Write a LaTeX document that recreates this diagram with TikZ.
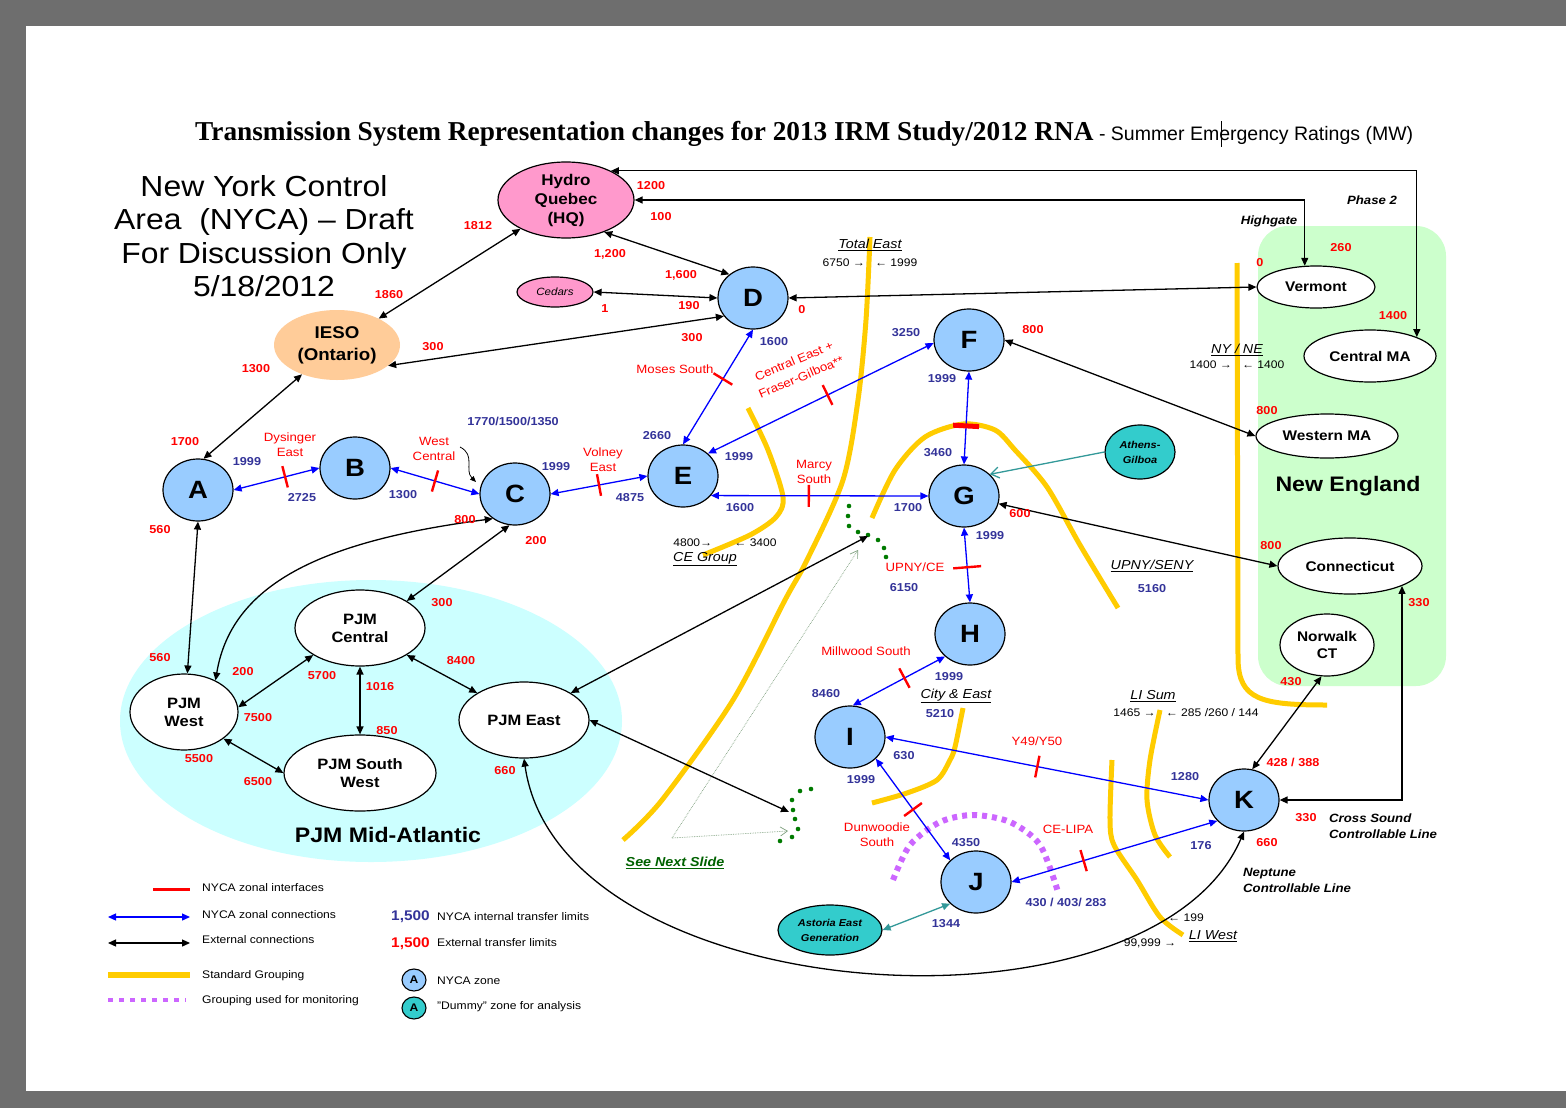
\documentclass[tikz,border=0pt]{standalone}
\usepackage{fontspec}
\setmainfont[FakeStretch=1.1]{Liberation Sans}
\newfontfamily\plainsans{Liberation Sans}
\newfontfamily\titleserif{Liberation Serif}
\usetikzlibrary{shapes.geometric,arrows.meta,calc}

\definecolor{zoneblue}{HTML}{99CCFF}
\definecolor{dummyteal}{HTML}{33CCCC}
\definecolor{hqpink}{HTML}{FF99CC}
\definecolor{iesopeach}{HTML}{FFCC99}
\definecolor{pjmcyan}{HTML}{CCFFFF}
\definecolor{negreen}{HTML}{CCFFCC}
\definecolor{grpyellow}{HTML}{FFCC00}
\definecolor{lblblue}{HTML}{333399}
\definecolor{monpurple}{HTML}{CC66FF}
\definecolor{dotgreen}{HTML}{007A00}
\definecolor{tealline}{HTML}{339999}
\definecolor{framegray}{HTML}{6E6E6E}
\definecolor{slidegreen}{HTML}{7FA07F}

\tikzset{
  ext/.style={draw=black, line width=1.3pt, <->},
  nyca/.style={draw=blue, line width=1.3pt, <->},
  zone/.style={ellipse, draw=black, line width=1.2pt, fill=zoneblue, minimum width=70pt, minimum height=62pt, inner sep=0pt, font=\bfseries\fontsize{25}{25}\selectfont},
  dummy/.style={ellipse, draw=black, line width=1.2pt, fill=dummyteal, inner sep=0pt, align=center, font=\bfseries\itshape\fontsize{10}{15}\selectfont},
  extarea/.style={ellipse, draw=black, line width=1.2pt, fill=white, inner sep=0pt, align=center, font=\bfseries\fontsize{14}{17}\selectfont},
  pjmarea/.style={ellipse, draw=black, line width=1.2pt, fill=white, inner sep=0pt, align=center, font=\bfseries\fontsize{15}{18}\selectfont},
  grpline/.style={draw=grpyellow, line width=5pt},
  rlim/.style={text=red, font=\bfseries\fontsize{11.5}{13}\selectfont, inner sep=0pt},
  blim/.style={text=lblblue, font=\bfseries\fontsize{11.5}{13}\selectfont, inner sep=0pt},
  iface/.style={text=red, font=\fontsize{12}{15}\selectfont, align=center, inner sep=0pt},
  grplbl/.style={font=\itshape\fontsize{13}{15}\selectfont, inner sep=0pt},
  linelbl/.style={font=\bfseries\itshape\fontsize{12}{15}\selectfont, inner sep=0pt},
  flowlbl/.style={font=\fontsize{11}{13}\selectfont, inner sep=0pt},
  notelbl/.style={font=\bfseries\itshape\fontsize{12}{16}\selectfont, align=left, inner sep=0pt},
  legtxt/.style={font=\fontsize{11}{13}\selectfont, anchor=west, inner sep=0pt},
  ifacetick/.style={sloped, rectangle, fill=red, minimum width=2.4pt, minimum height=22pt, inner sep=0pt},
  ifacebar/.style={sloped, rectangle, fill=red, minimum width=5pt, minimum height=26pt, inner sep=0pt},
  dotarrow/.style={draw=slidegreen, line width=0.7pt, densely dotted, -{Straight Barb[length=7pt,width=9pt]}},
}

\begin{document}
\begin{tikzpicture}[x=1pt,y=-1pt, >={Triangle[length=8pt,width=7pt]}]
\useasboundingbox (0,0) rectangle (1566,1108);
% frame
\fill[framegray] (0,0) rectangle (1566,1108);
\fill[white] (26,26) rectangle (1566,1091);

% background regions
\node[ellipse, fill=pjmcyan, minimum width=502pt, minimum height=282pt, inner sep=0pt] (PJMRegion) at (371,721) {};
\node[rectangle, fill=negreen, rounded corners=30pt, minimum width=188pt, minimum height=460pt, inner sep=0pt] (NERegion) at (1352,456) {};

% titles
\node[anchor=base west, inner sep=0pt] (title) at (195,140) {{\titleserif\bfseries\fontsize{27.3}{30}\selectfont Transmission System Representation changes for 2013 IRM Study/2012 RNA}{\plainsans\fontsize{19.5}{22}\selectfont{} - Summer Emergency Ratings (MW)}};
\draw[line width=0.8pt] (1221,121) -- (1221,147);
\node[align=center, font=\fontsize{29}{33.3}\selectfont, inner sep=0pt] (nyca) at (264,236) {New York Control\\Area~~(NYCA) -- Draft\\For Discussion Only\\5/18/2012};

% standard groupings
\draw[grpline] plot[smooth] coordinates {(870,237) (866,320) (858,400) (843,480) (807,560) (785,600) (733,700) (662,800) (623,840)};
\draw[grpline] plot[smooth] coordinates {(748,408) (768,450) (783,497) (776,517) (750,535) (703,555)};
\draw[grpline] plot[smooth] coordinates {(872,518) (895,470) (925,437) (963,424) (995,430) (1015,450) (1047,487) (1080,545) (1118,608)};
\draw[grpline] (1237,263) -- (1238,660) .. controls (1239,700) and (1262,705) .. (1327,705);
\draw[grpline] plot[smooth] coordinates {(963,708) (955,747) (950,760) (937,780) (907,793) (872,803)};
\draw[grpline] plot[smooth] coordinates {(1160,710) (1150,760) (1147,800) (1155,835) (1170,857)};
\draw[grpline] plot[smooth] coordinates {(1112,760) (1110,820) (1114,845) (1137,880) (1160,917) (1183,935)};
% monitoring grouping
\draw[monpurple, line width=6pt, dash pattern=on 5pt off 5pt] plot[smooth] coordinates {(893,880) (910,845) (940,822) (973,815) (1010,822) (1040,845) (1058,892)};

% see-next-slide markers
\foreach \p in {(849,506),(848,516),(849,526),(858,532),(868,535),(878,540),(884,548),(886,557)}
  \fill[dotgreen] \p circle (2.3pt);
\foreach \p in {(811,789),(800,791),(792,800),(793,810),(795,819),(798,829),(792,837),(780,841)}
  \fill[dotgreen] \p circle (2.3pt);
\coordinate (upperCl) at (868,536);
\coordinate (lowerCl) at (789,812);
\coordinate (slideStart) at (672,838);
\coordinate (slideUp) at (858,550);
\coordinate (slideDown) at (788,831);
\draw[dotarrow] (slideStart) -- (slideUp);
\draw[dotarrow] (slideStart) -- (slideDown);

% ---------- nodes ----------
\node[ellipse, draw=black, line width=1.2pt, fill=hqpink, minimum width=136pt, minimum height=76pt, inner sep=0pt, align=center, font=\bfseries\fontsize{15.5}{19}\selectfont] (HQ) at (566,200) {Hydro\\Quebec\\(HQ)};
\node[ellipse, draw=black, line width=1.2pt, fill=hqpink, minimum width=76pt, minimum height=30pt, inner sep=0pt, font=\itshape\fontsize{10.5}{12}\selectfont] (Cedars) at (555,292) {Cedars};
\node[ellipse, fill=iesopeach, minimum width=126pt, minimum height=70pt, inner sep=0pt, align=center, font=\bfseries\fontsize{17}{22}\selectfont] (IESO) at (337,345) {IESO\\(Ontario)};

\node[zone] (A) at (198,490) {A};
\node[zone] (B) at (355,468) {B};
\node[zone] (C) at (515,494) {C};
\node[zone] (D) at (753,298) {D};
\node[zone] (E) at (683,476) {E};
\node[zone] (F) at (969,340) {F};
\node[zone] (G) at (964,496) {G};
\node[zone] (H) at (970,634) {H};
\node[zone] (I) at (850,737) {I};
\node[zone] (J) at (976,882) {J};
\node[zone] (K) at (1244,800) {K};

\node[dummy, minimum width=70pt, minimum height=54pt] (Athens) at (1140,452) {Athens-\\Gilboa};
\node[dummy, minimum width=104pt, minimum height=50pt] (Astoria) at (830,930) {Astoria East\\Generation};

\node[extarea, minimum width=118pt, minimum height=42pt] (Vermont) at (1316,287) {Vermont};
\node[extarea, minimum width=132pt, minimum height=52pt] (CentralMA) at (1370,356) {Central MA};
\node[extarea, minimum width=142pt, minimum height=44pt] (WesternMA) at (1327,436) {Western MA};
\node[extarea, minimum width=144pt, minimum height=56pt] (Conn) at (1350,566) {Connecticut};
\node[extarea, minimum width=94pt, minimum height=62pt] (Norwalk) at (1327,645) {Norwalk\\CT};
\node[font=\bfseries\fontsize{21}{24}\selectfont, inner sep=0pt] (NElbl) at (1348,486) {New England};

\node[pjmarea, minimum width=130pt, minimum height=76pt] (PJMCentral) at (360,628) {PJM\\Central};
\node[pjmarea, minimum width=108pt, minimum height=76pt] (PJMWest) at (184,712) {PJM\\West};
\node[pjmarea, minimum width=152pt, minimum height=76pt] (PJMSW) at (360,773) {PJM South\\West};
\node[pjmarea, minimum width=130pt, minimum height=76pt] (PJMEast) at (524,720) {PJM East};
\node[font=\bfseries\fontsize{21}{24}\selectfont, inner sep=0pt] (PJMlbl) at (388,835) {PJM Mid-Atlantic};

% ---------- external connections ----------
\draw[ext] (IESO) -- (HQ);
\draw[ext] (IESO.220) -- (A.80);
\draw[ext] (IESO.-22) -- (D.212);
\draw[ext] (HQ.-40) -- (D.135);
\draw[ext] (Cedars.east) -- (D.west);
\draw[ext] (D.east) -- (Vermont.west);
\draw[ext] (HQ.east) -| (Vermont.118);
\draw[ext] (HQ.33) -| (CentralMA.22);
\draw[ext] (F.east) -- (WesternMA.west);
\draw[ext] (G) -- (Conn.west);
\draw[ext] (K.75) -- (Norwalk.-100);
\draw[ext] (K.east) -| (Conn.-21);
\draw[ext] (A.south) -- (PJMWest.85);
\draw[ext] (PJMWest.45) .. controls (232,580) and (330,540) .. (C.228);
\draw[ext] (C.260) -- (PJMCentral.30);
\draw[ext] (PJMCentral.210) -- (PJMWest.5);
\draw[ext] (PJMCentral.south) -- (PJMSW.north);
\draw[ext] (PJMCentral.-30) -- (PJMEast.150);
\draw[ext] (PJMWest.-34) -- (PJMSW.west);
\draw[ext] (PJMEast.30) -- (upperCl);
\draw[ext] (PJMEast.east) -- (lowerCl);
\draw[ext] (PJMEast.south) .. controls (560,1010) and (1150,1050) .. (K.south);
\draw[draw=tealline, line width=1.3pt, -{Straight Barb[length=8pt,width=11pt]}] (Athens.west) -- (G.40);
\draw[draw=tealline, line width=1.3pt, <->] (Astoria.east) -- (J.220);
% small pointer near West Central
\coordinate (wcA) at (460,447);
\coordinate (wcB) at (476,482);
\draw[line width=0.8pt, -{Triangle[length=6pt,width=5pt]}] (wcA) .. controls (476,455) and (464,470) .. (wcB);

% ---------- NYCA zonal connections ----------
\draw[nyca] (A.east) -- node[ifacetick, pos=0.6]{} (B.west);
\draw[nyca] (B.east) -- node[ifacetick, pos=0.5]{} (C.west);
\draw[nyca] (C.east) -- node[ifacetick, pos=0.5]{} (E.west);
\draw[nyca] (D.south) -- node[ifacetick, pos=0.43]{} (E.north);
\draw[nyca] (E.42) -- node[ifacetick, pos=0.53]{} (F.185);
\draw[nyca] (E.-35) -- node[ifacetick, pos=0.45]{} (G.west);
\draw[nyca] (F.south) -- node[ifacebar, pos=0.585]{} (G.north);
\draw[nyca] (G.south) -- node[ifacetick, pos=0.53, minimum height=28pt]{} (H.north);
\draw[nyca] (H.222) -- node[ifacetick, pos=0.44]{} (I.85);
\draw[nyca] (I.east) -- node[ifacetick, pos=0.47]{} (K.west);
\draw[nyca] (I.-40) -- node[ifacetick, pos=0.5]{} (J.140);
\draw[nyca] (J.east) -- node[ifacetick, pos=0.35]{} (K.218);

% ---------- external limits (red) ----------
\node[rlim] (l1) at (651,186) {1200};
\node[rlim] (l2) at (661,217) {100};
\node[rlim] (l3) at (478,226) {1812};
\node[rlim] (l4) at (610,254) {1,200};
\node[rlim] (l5) at (681,275) {1,600};
\node[rlim] (l6) at (689,306) {190};
\node[rlim] (l7) at (605,309) {1};
\node[rlim] (l8) at (802,310) {0};
\node[rlim] (l9) at (692,338) {300};
\node[rlim] (l10) at (389,295) {1860};
\node[rlim] (l11) at (433,347) {300};
\node[rlim] (l12) at (256,369) {1300};
\node[rlim] (l13) at (185,442) {1700};
\node[rlim] (l14) at (160,530) {560};
\node[rlim] (l15) at (465,520) {800};
\node[rlim] (l16) at (536,541) {200};
\node[rlim] (l17) at (442,603) {300};
\node[rlim] (l18) at (160,658) {560};
\node[rlim] (l19) at (243,672) {200};
\node[rlim] (l20) at (322,676) {5700};
\node[rlim] (l21) at (380,687) {1016};
\node[rlim] (l22) at (258,718) {7500};
\node[rlim] (l23) at (461,661) {8400};
\node[rlim] (l24) at (387,731) {850};
\node[rlim] (l25) at (199,759) {5500};
\node[rlim] (l26) at (258,782) {6500};
\node[rlim] (l27) at (505,771) {660};
\node[rlim] (l28) at (1033,330) {800};
\node[rlim] (l29) at (1020,514) {600};
\node[rlim] (l30) at (1341,248) {260};
\node[rlim] (l31) at (1260,263) {0};
\node[rlim] (l32) at (1393,316) {1400};
\node[rlim] (l33) at (1267,411) {800};
\node[rlim] (l34) at (1271,546) {800};
\node[rlim] (l35) at (1419,603) {330};
\node[rlim] (l36) at (1291,682) {430};
\node[rlim] (l37) at (1293,762) {428 / 388};
\node[rlim] (l38) at (1306,818) {330};
\node[rlim] (l39) at (1267,843) {660};

% ---------- internal limits (blue) ----------
\node[blim] (b1) at (247,462) {1999};
\node[blim] (b2) at (302,498) {2725};
\node[blim] (b3) at (403,495) {1300};
\node[blim] (b4) at (513,421) {1770/1500/1350};
\node[blim] (b5) at (556,467) {1999};
\node[blim] (b6) at (630,498) {4875};
\node[blim] (b7) at (657,436) {2660};
\node[blim] (b8) at (739,457) {1999};
\node[blim] (b9) at (740,508) {1600};
\node[blim] (b10) at (774,342) {1600};
\node[blim] (b11) at (906,333) {3250};
\node[blim] (b12) at (942,379) {1999};
\node[blim] (b13) at (938,453) {3460};
\node[blim] (b14) at (908,508) {1700};
\node[blim] (b15) at (990,536) {1999};
\node[blim] (b16) at (904,588) {6150};
\node[blim] (b17) at (1152,589) {5160};
\node[blim] (b18) at (826,694) {8460};
\node[blim] (b19) at (949,677) {1999};
\node[blim] (b20) at (940,714) {5210};
\node[blim] (b21) at (904,756) {630};
\node[blim] (b22) at (861,780) {1999};
\node[blim] (b23) at (1185,777) {1280};
\node[blim] (b24) at (966,843) {4350};
\node[blim] (b25) at (1201,846) {176};
\node[blim] (b26) at (1066,902) {430 / 403/ 283};
\node[blim] (b27) at (946,924) {1344};

% ---------- interface names ----------
\node[iface] (n1) at (290,445) {Dysinger\\East};
\node[iface] (n2) at (434,449) {West\\Central};
\node[iface] (n3) at (603,460) {Volney\\East};
\node[iface] (n4) at (675,369) {Moses South};
\node[iface, rotate=23] (n5a) at (794,361) {Central East +};
\node[iface, rotate=23] (n5b) at (801,377) {Fraser-Gilboa**};
\node[iface] (n6) at (814,472) {Marcy\\South};
\node[iface] (n7) at (915,567) {UPNY/CE};
\node[iface] (n8) at (866,651) {Millwood South};
\node[iface] (n9) at (1037,741) {Y49/Y50};
\node[iface] (n10) at (877,835) {Dunwoodie\\South};
\node[iface] (n11) at (1068,829) {CE-LIPA};

% ---------- grouping labels ----------
\node[grplbl] (g1) at (870,245) {\underline{Total East}};
\node[flowlbl] (g1f) at (870,263) {6750 →\hspace{10pt}← 1999};
\node[flowlbl] (g2f) at (725,543) {4800→\hspace{22pt}← 3400};
\node[grplbl] (g2) at (705,559) {\underline{CE Group}};
\node[grplbl] (g3) at (1152,566) {\underline{UPNY/SENY}};
\node[grplbl] (g4) at (1237,350) {\underline{NY / NE}};
\node[flowlbl] (g4f) at (1237,365) {1400 →\hspace{10pt}← 1400};
\node[grplbl] (g5) at (956,696) {\underline{City \& East}};
\node[grplbl] (g6) at (1153,696) {\underline{LI Sum}};
\node[flowlbl] (g6f) at (1186,713) {1465 →\hspace{10pt}← 285 /260 / 144};
\node[grplbl] (g7) at (1213,936) {\underline{LI West}};
\node[flowlbl] (g7a) at (1186,918) {← 199};
\node[flowlbl] (g7b) at (1150,943) {99,999 →};
\node[linelbl] (hg) at (1269,221) {Highgate};
\node[linelbl] (ph2) at (1372,200) {Phase 2};
\node[notelbl, anchor=west] (cs) at (1329,826) {Cross Sound\\Controllable Line};
\node[notelbl, anchor=west] (nep) at (1243,880) {Neptune\\Controllable Line};
\node[font=\bfseries\itshape\fontsize{13}{15}\selectfont, text=dotgreen!80!black, inner sep=0pt] (sns) at (675,863) {\underline{See Next Slide}};

% ---------- legend ----------
\coordinate (lg1a) at (153,889); \coordinate (lg1b) at (190,889);
\draw[red, line width=3pt] (lg1a) -- (lg1b);
\node[legtxt] (lt1) at (202,888) {NYCA zonal interfaces};
\coordinate (lg2a) at (108,917); \coordinate (lg2b) at (190,917);
\draw[nyca] (lg2a) -- (lg2b);
\node[legtxt] (lt2) at (202,915) {NYCA zonal connections};
\coordinate (lg3a) at (108,943); \coordinate (lg3b) at (190,943);
\draw[ext] (lg3a) -- (lg3b);
\node[legtxt] (lt3) at (202,940) {External connections};
\coordinate (lg4a) at (108,975); \coordinate (lg4b) at (190,975);
\draw[grpline, line width=6pt] (lg4a) -- (lg4b);
\node[legtxt] (lt4) at (202,976) {Standard Grouping};
\coordinate (lg5a) at (108,1000); \coordinate (lg5b) at (186,1000);
\draw[monpurple, line width=4pt, dash pattern=on 5pt off 6pt] (lg5a) -- (lg5b);
\node[legtxt] (lt5) at (202,1001) {Grouping used for monitoring};
\node[anchor=west, inner sep=0pt, text=lblblue, font=\bfseries\fontsize{14}{16}\selectfont] (lv1) at (391,917) {1,500};
\node[legtxt] (lt6) at (437,917) {NYCA internal transfer limits};
\node[anchor=west, inner sep=0pt, text=red, font=\bfseries\fontsize{14}{16}\selectfont] (lv2) at (391,944) {1,500};
\node[legtxt] (lt7) at (437,943) {External transfer limits};
\node[ellipse, draw=black, line width=1.1pt, fill=zoneblue, minimum width=24pt, minimum height=22pt, inner sep=0pt, font=\bfseries\fontsize{11}{11}\selectfont] (lz1) at (414,980) {A};
\node[legtxt] (lt8) at (437,981) {NYCA zone};
\node[ellipse, draw=black, line width=1.1pt, fill=dummyteal, minimum width=24pt, minimum height=22pt, inner sep=0pt, font=\bfseries\fontsize{11}{11}\selectfont] (lz2) at (414,1008) {A};
\node[legtxt] (lt9) at (437,1007) {"Dummy" zone for analysis};
\end{tikzpicture}
\end{document}
